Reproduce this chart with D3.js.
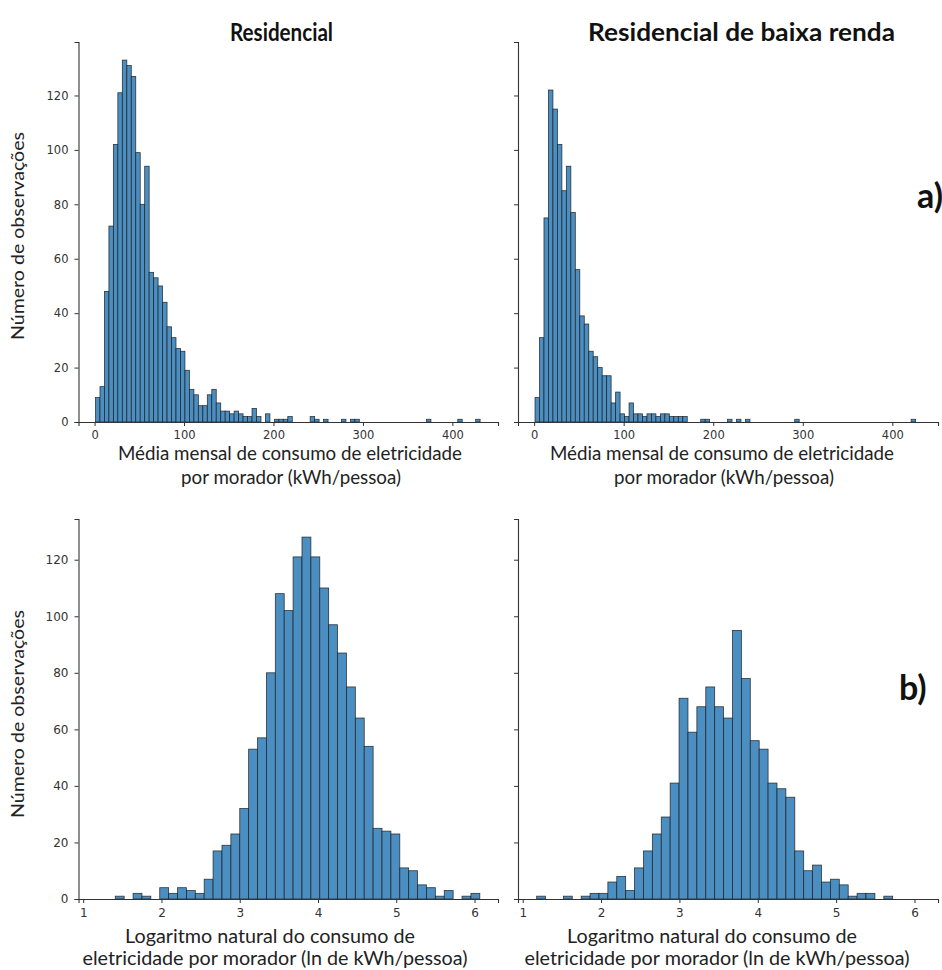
<!DOCTYPE html>
<html><head><meta charset="utf-8">
<script src="https://cdn.jsdelivr.net/npm/d3@7"></script>
<style>body{margin:0;background:#fff} svg{display:block}</style>
</head><body>
<script>
// ---------------- DATA ----------------
const panelTitles = ["Residencial", "Residencial de baixa renda"];
const yLabel = "Número de observações";
const xLabelTop = ["Média mensal de consumo de eletricidade", "por morador (kWh/pessoa)"];
const xLabelBottom = ["Logaritmo natural do consumo de", "eletricidade por morador (ln de kWh/pessoa)"];
const panelTags = ["a)", "b)"];

// kWh/pessoa histograms (bin start, bin width, counts per bin)
const kwhBinStart = 1;
const kwhBinWidth = 5;
const resKwhCounts = [9,13,48,72,102,121,133,131,127,99,80,94,55,53,50,44,35,31,27,26,
  19,12,10,6,6,10,12,7,4,4,3,4,3,2,2,5,2,0,3,0,
  1,1,1,2,0,0,0,0,2,1,0,1,0,0,0,1,0,1,1,0,
  0,0,0,0,0,0,0,0,0,0,0,0,0,0,1,0,0,0,0,0,
  0,1,0,0,0,1];
const lowKwhCounts = [9,31,75,122,115,102,85,94,77,56,39,36,26,24,20,17,17,7,11,3,
  2,7,3,3,2,3,3,2,3,3,2,2,2,2,0,0,0,1,1,0,
  0,0,0,1,0,1,0,1,0,0,0,0,0,0,0,0,0,0,1,0,
  0,0,0,0,0,0,0,0,0,0,0,0,0,0,0,0,0,0,0,0,
  0,0,0,0,1];

// ln(kWh/pessoa) histograms
const lnBinWidth = 0.1136;
const resLnBinStart = 1.41;
const resLnCounts = [1,0,2,1,0,4,2,4,3,2,7,17,19,23,32,53,57,80,108,102,
  121,128,121,110,97,87,75,64,54,25,24,23,11,10,5,4,1,3,0,1,2];
const lowLnBinStart = 1.178;
const lowLnCounts = [1,0,0,1,0,1,2,2,6,8,3,11,17,23,29,41,71,59,68,75,
  68,64,95,78,56,53,41,39,36,17,10,12,6,7,5,1,2,2,0,1];

const kwhTicks = [0,100,200,300,400];
const lnTicks = [1,2,3,4,5,6];
const countTicks = [0,20,40,60,80,100,120];
const kwhDomain = [-18, 451];
const lnDomain = [0.94, 6.30];

// ---------------- DRAW ----------------
const W = 942, H = 970;
const svg = d3.select("body").append("svg").attr("width", W).attr("height", H);

const barFill = "#4b8fc2";
const barStroke = "#1c1c1c";
const axisColor = "#333";
const labelFont = "Lato, 'Noto Sans', sans-serif";
const tickFont = "'DejaVu Sans', sans-serif";

function makeBins(start, width, counts){
  return counts.map((c,i)=>({x0:start+i*width, x1:start+(i+1)*width, n:c}));
}

const rows = [
  {yTop:42, yBase:422, domain:kwhDomain, ticks:kwhTicks, tickSize:11.5, pad:5,
   data:[makeBins(kwhBinStart,kwhBinWidth,resKwhCounts), makeBins(kwhBinStart,kwhBinWidth,lowKwhCounts)]},
  {yTop:519, yBase:899, domain:lnDomain, ticks:lnTicks, tickSize:12, pad:5,
   data:[makeBins(resLnBinStart,lnBinWidth,resLnCounts), makeBins(lowLnBinStart,lnBinWidth,lowLnCounts)]}
];
const cols = [{x0:78.5, x1:498}, {x0:518, x1:938}];

rows.forEach((row, r)=>{
  const yMax = d3.max(row.data.flat(), d=>d.n) * 1.05;
  const y = d3.scaleLinear().domain([0, yMax]).range([row.yBase, row.yTop]);
  cols.forEach((col, c)=>{
    const x = d3.scaleLinear().domain(row.domain).range([col.x0, col.x1]);
    const g = svg.append("g");
    g.selectAll("rect").data(row.data[c].filter(d=>d.n>0)).join("rect")
      .attr("x", d=>x(d.x0))
      .attr("width", d=>x(d.x1)-x(d.x0))
      .attr("y", d=>y(d.n))
      .attr("height", d=>y(0)-y(d.n))
      .attr("fill", barFill)
      .attr("stroke", barStroke)
      .attr("stroke-width", 0.8)
      .attr("stroke-opacity", 0.85);

    const xa = svg.append("g").attr("transform", `translate(0,${row.yBase})`)
      .call(d3.axisBottom(x).tickValues(row.ticks).tickFormat(d3.format("d")).tickSizeOuter(0).tickSize(4).tickPadding(row.pad));
    const ya = svg.append("g").attr("transform", `translate(${col.x0},0)`)
      .call(d3.axisLeft(y).tickValues(countTicks).tickSizeOuter(0).tickSize(4).tickPadding(6)
        .tickFormat(c===0 ? d3.format("d") : ()=>""));
    [xa, ya].forEach(a=>{
      a.select(".domain").attr("stroke", axisColor).attr("stroke-width", 1.1);
      a.selectAll(".tick line").attr("stroke", axisColor).attr("stroke-width", 1);
      a.selectAll(".tick text").attr("fill", "#333").attr("font-family", tickFont)
        .attr("font-size", row.tickSize);
    });
  });
});

// titles
const titleSpec = [{x:281.5, len:103}, {x:741.5, len:307}];
panelTitles.forEach((t,i)=>{
  svg.append("text").text(t).attr("x", titleSpec[i].x).attr("y", 41)
    .attr("text-anchor","middle").attr("font-family", labelFont).attr("font-weight","bold")
    .attr("font-size", 24).attr("fill","#111")
    .attr("textLength", titleSpec[i].len).attr("lengthAdjust","spacingAndGlyphs");
});

// y labels
[236, 714].forEach(cy=>{
  svg.append("text").text(yLabel)
    .attr("transform", `translate(24,${cy}) rotate(-90)`)
    .attr("text-anchor","middle").attr("font-family", labelFont)
    .attr("font-size", 17).attr("fill","#222")
    .attr("textLength", 208).attr("lengthAdjust","spacingAndGlyphs");
});

// x labels: one common horizontal condensation per row, derived from the reference width of one line
const xLabelSpec = [
  {lines:xLabelTop, ys:[460,484], refLine:0, refLen:344, cx:[[290,722],[291,724]]},
  {lines:xLabelBottom, ys:[943,965], refLine:1, refLen:385, cx:[[270,712],[275,717]]}
];
xLabelSpec.forEach(s=>{
  const probe = svg.append("text").attr("font-family", labelFont).attr("font-size", 19.5);
  const nat = s.lines.map(l=>{ probe.text(l); return probe.node().getComputedTextLength(); });
  probe.remove();
  const f = s.refLen / nat[s.refLine];
  s.lines.forEach((line, li)=>{
    [0,1].forEach(c=>{
      svg.append("text").text(line).attr("x", s.cx[li][c]).attr("y", s.ys[li])
        .attr("text-anchor","middle").attr("font-family", labelFont)
        .attr("font-size", 19.5).attr("fill","#222")
        .attr("textLength", nat[li]*f).attr("lengthAdjust","spacingAndGlyphs");
    });
  });
});

// panel tags
svg.append("text").text(panelTags[0]).attr("x", 917).attr("y", 208)
  .attr("font-family", labelFont).attr("font-weight","bold").attr("font-size", 34).attr("fill","#111");
svg.append("text").text(panelTags[1]).attr("x", 899).attr("y", 700)
  .attr("font-family", labelFont).attr("font-weight","bold").attr("font-size", 34).attr("fill","#111");
</script>
</body></html>
